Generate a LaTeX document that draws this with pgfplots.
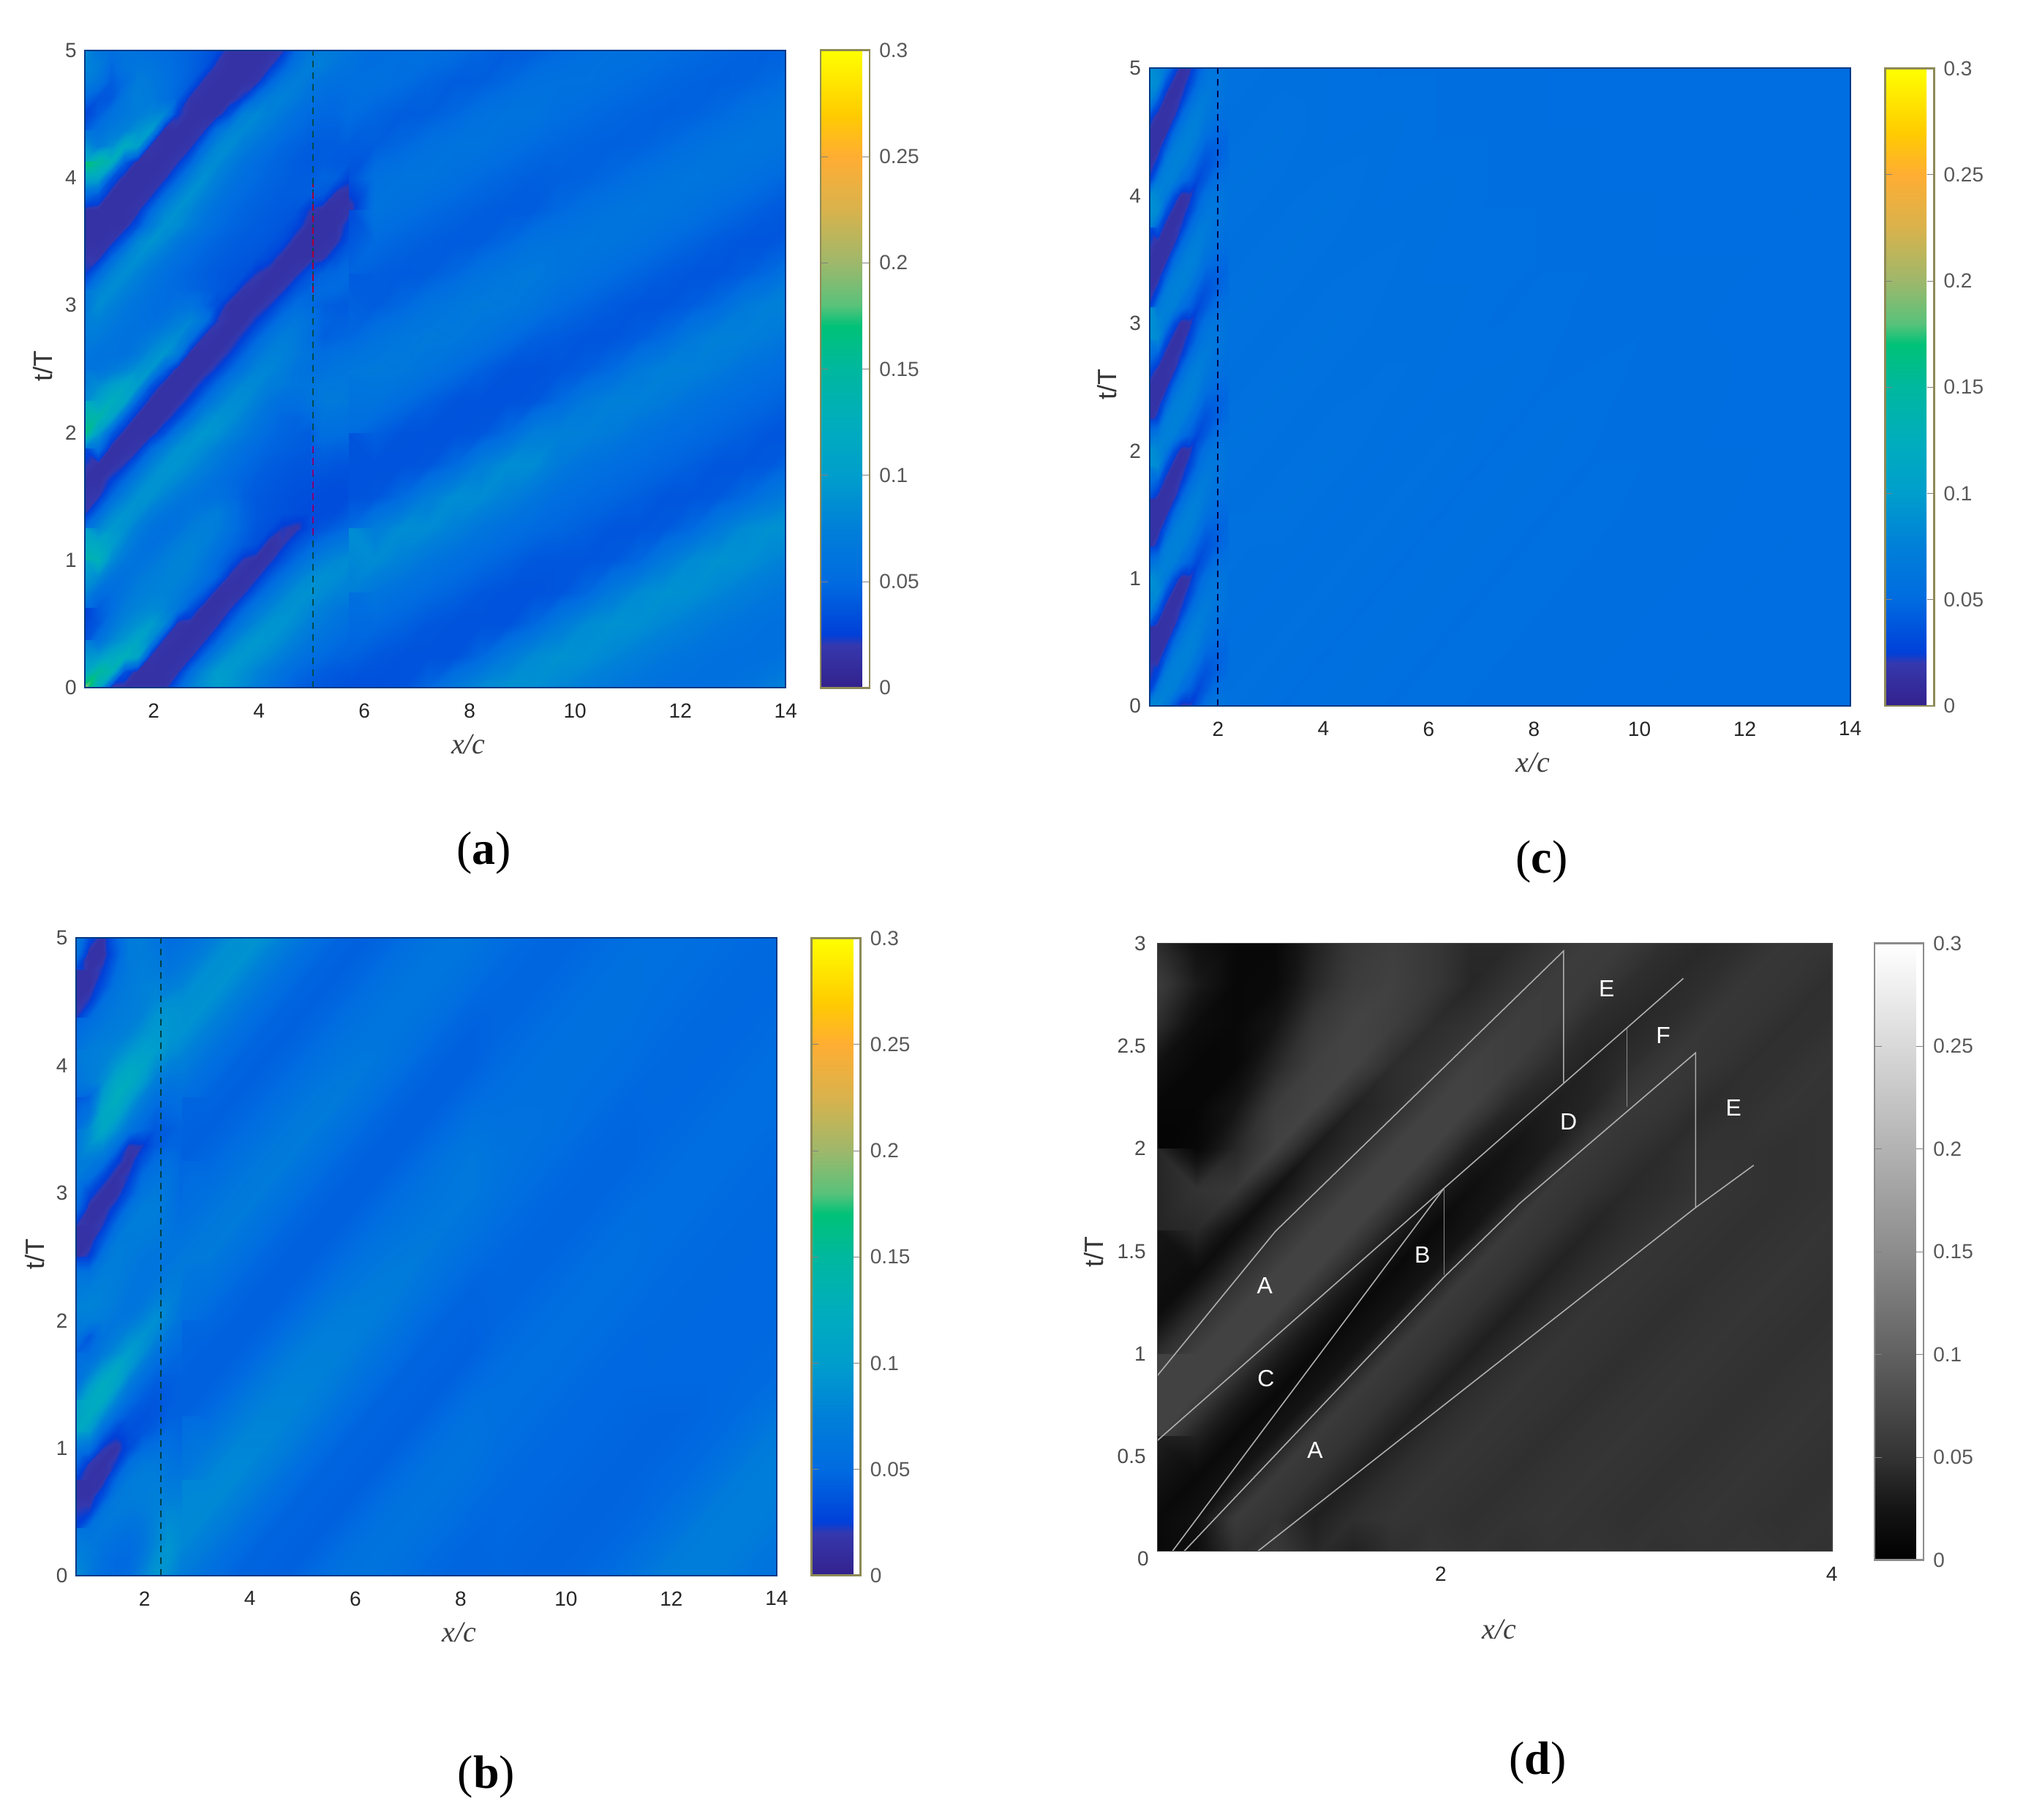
\documentclass[border=0pt]{standalone}
\usepackage{fontspec}
\usepackage{pgfplots}
\pgfplotsset{compat=1.18}
\setmainfont{Liberation Sans}
\newfontfamily\serifit{Liberation Serif}
\pgfplotsset{
 colormap={par}{rgb(0pt)=(.2,.13,.55); rgb(20pt)=(.21,.22,.68); rgb(25pt)=(0,.25,.85); rgb(50pt)=(0,.42,.88); rgb(75pt)=(0,.50,.85); rgb(100pt)=(0,.62,.80); rgb(125pt)=(0,.68,.74); rgb(150pt)=(0,.72,.62); rgb(170pt)=(0,.76,.47); rgb(180pt)=(.35,.76,.48); rgb(200pt)=(.62,.72,.42); rgb(225pt)=(.85,.70,.30); rgb(250pt)=(1,.68,.2); rgb(270pt)=(1,.8,0); rgb(300pt)=(1,1,0)},
 colormap={gry}{rgb(0pt)=(0,0,0); rgb(25pt)=(.08,.08,.08); rgb(50pt)=(.2,.2,.2); rgb(100pt)=(.38,.38,.38); rgb(150pt)=(.55,.55,.55); rgb(200pt)=(.7,.7,.7); rgb(250pt)=(.85,.85,.85); rgb(300pt)=(1,1,1)},
 heat/.style={scale only axis, axis on top, width=239.46pt, height=217.85pt,
  xmin=0.7, xmax=14, ymin=0, ymax=5, xtick={2,4,...,14}, ytick={0,...,5},
  major tick length=0pt, point meta min=0, point meta max=0.3,
  /pgf/number format/assume math mode=true,
  axis line style={draw=teal!60!blue!75!black, line width=.5pt},
  xticklabel style={font=\fontsize{7}{8}\selectfont, text=black!85, yshift=-1.9pt},
  yticklabel style={font=\fontsize{7}{8}\selectfont, text=black!70, xshift=.6pt},
  colorbar, colorbar style={scale only axis, width=16.76pt, height=217.85pt,
   at={(1.0497,1)}, anchor=north west, ymin=0, ymax=0.3,
   ytick={0,0.05,0.1,0.15,0.2,0.25,0.3}, yticklabels={0,0.05,0.1,0.15,0.2,0.25,0.3},
   major tick length=2.4pt, tick align=inside, yticklabel pos=right,
   axis line style={draw=black!45!olive!70, line width=.7pt},
   yticklabel style={font=\fontsize{7}{8}\selectfont, text=black!65, xshift=-.2pt}}},
 dash/.style={line width=.55pt, draw=#1, dash pattern=on 2.2pt off 1.8pt},
 mesh a/.style={surf, shader=interp, mesh/ordering=x varies, point meta=explicit},
}
\begin{document}
\begin{tikzpicture}[x=.441pt,y=.441pt]
\path[use as bounding box] (0,0) rectangle (1568,1410);
\coordinate (pa) at (66,877); \coordinate (pc) at (891,863);
\coordinate (pb) at (59,189); \coordinate (pd) at (897,208);
% ---------- (a)
\begin{axis}[at={(pa)},anchor=south west,heat,colormap name=par]
\addplot[mesh a, mesh/cols=18] table[row sep=\\, header=false,
 x expr={5.7+0.5*mod(\coordindex,18)}, y expr={5-0.25*floor(\coordindex/18)}, meta expr={\thisrowno{0}/1000}]{
62\\52\\55\\56\\52\\46\\42\\43\\49\\54\\57\\57\\53\\50\\47\\45\\44\\45\\
55\\56\\52\\46\\42\\43\\48\\56\\57\\57\\53\\50\\47\\45\\44\\45\\49\\55\\
52\\46\\42\\43\\48\\56\\60\\60\\53\\50\\47\\45\\44\\45\\49\\55\\60\\62\\
42\\43\\48\\56\\60\\60\\55\\50\\47\\45\\44\\45\\49\\55\\60\\62\\61\\57\\
35\\56\\60\\60\\55\\50\\46\\43\\44\\45\\49\\55\\60\\62\\61\\57\\51\\46\\
15\\60\\55\\50\\46\\43\\41\\42\\49\\55\\60\\62\\61\\57\\51\\46\\41\\38\\
30\\50\\46\\43\\41\\42\\48\\58\\60\\62\\61\\57\\51\\46\\41\\38\\38\\42\\
46\\43\\41\\42\\48\\58\\64\\67\\61\\57\\51\\46\\41\\38\\38\\42\\50\\66\\
41\\42\\48\\58\\64\\67\\66\\60\\51\\46\\41\\38\\38\\42\\50\\66\\75\\74\\
48\\58\\64\\67\\66\\60\\52\\44\\41\\38\\38\\42\\50\\66\\75\\74\\68\\59\\
64\\67\\66\\60\\52\\44\\37\\36\\38\\42\\50\\66\\75\\74\\68\\59\\53\\50\\
66\\60\\52\\44\\37\\36\\36\\38\\50\\66\\75\\74\\68\\59\\53\\50\\47\\43\\
52\\44\\37\\36\\36\\38\\50\\72\\75\\74\\68\\59\\53\\50\\47\\43\\38\\38\\
37\\36\\36\\38\\50\\72\\86\\85\\68\\59\\53\\50\\47\\43\\38\\38\\40\\49\\
36\\38\\50\\72\\86\\85\\75\\63\\53\\50\\47\\43\\38\\38\\40\\49\\63\\74\\
50\\72\\86\\85\\75\\63\\55\\50\\47\\43\\38\\38\\40\\49\\68\\84\\90\\88\\
86\\85\\75\\63\\55\\50\\45\\39\\38\\38\\40\\48\\68\\84\\90\\88\\80\\72\\
75\\63\\55\\50\\45\\39\\36\\36\\38\\48\\68\\84\\90\\88\\80\\72\\65\\60\\
55\\50\\45\\39\\36\\36\\36\\48\\68\\84\\90\\88\\80\\72\\65\\60\\56\\55\\
45\\39\\36\\36\\36\\48\\68\\84\\90\\88\\80\\72\\65\\60\\56\\55\\56\\60\\
34\\34\\36\\48\\68\\84\\90\\88\\80\\72\\65\\60\\56\\55\\56\\60\\70\\88\\
};
\addplot[mesh a, mesh/cols=21] table[row sep=\\, header=false,
 x expr={0.7+0.25*mod(\coordindex,21)}, y expr={5-0.125*floor(\coordindex/21)}, meta expr={\thisrowno{0}/1000}]{
85\\62\\55\\62\\58\\55\\52\\48\\45\\40\\32\\15\\15\\15\\15\\20\\48\\65\\70\\68\\62\\
80\\70\\48\\60\\65\\62\\56\\50\\45\\38\\18\\15\\15\\15\\20\\42\\62\\72\\70\\62\\58\\
72\\60\\42\\52\\70\\66\\58\\50\\42\\18\\15\\15\\15\\18\\45\\65\\72\\65\\58\\55\\55\\
50\\38\\40\\62\\72\\68\\58\\46\\18\\15\\15\\15\\25\\55\\72\\76\\68\\58\\52\\50\\52\\
28\\42\\58\\65\\72\\80\\82\\25\\15\\15\\15\\35\\75\\82\\75\\65\\55\\50\\48\\48\\52\\
42\\58\\68\\75\\90\\100\\15\\15\\15\\20\\55\\78\\82\\75\\65\\55\\50\\46\\44\\44\\48\\
62\\70\\85\\120\\105\\18\\15\\15\\18\\50\\80\\85\\72\\62\\54\\48\\45\\42\\42\\42\\42\\
120\\150\\130\\45\\15\\15\\15\\20\\45\\78\\85\\72\\60\\52\\48\\45\\42\\40\\42\\40\\40\\
175\\110\\38\\15\\15\\15\\18\\45\\75\\88\\75\\62\\54\\50\\46\\44\\42\\42\\46\\44\\28\\
55\\42\\15\\15\\15\\18\\48\\75\\90\\78\\65\\55\\50\\46\\44\\42\\42\\42\\40\\18\\15\\
18\\15\\15\\15\\18\\48\\78\\90\\80\\66\\56\\50\\46\\44\\42\\40\\38\\22\\15\\15\\18\\
15\\15\\15\\15\\36\\70\\90\\86\\72\\60\\52\\47\\44\\42\\40\\38\\30\\15\\15\\15\\28\\
15\\15\\18\\42\\80\\92\\82\\66\\56\\50\\46\\43\\41\\40\\38\\32\\15\\15\\15\\18\\36\\
15\\18\\48\\78\\88\\78\\66\\56\\50\\46\\43\\41\\39\\37\\30\\15\\15\\15\\18\\36\\46\\
24\\50\\78\\86\\76\\64\\56\\50\\46\\43\\40\\38\\36\\22\\15\\15\\18\\36\\46\\48\\50\\
50\\78\\85\\76\\66\\58\\52\\50\\47\\44\\40\\36\\18\\15\\15\\20\\38\\46\\50\\50\\46\\
62\\85\\76\\66\\60\\54\\52\\58\\60\\48\\34\\15\\15\\15\\22\\40\\52\\50\\44\\42\\41\\
72\\76\\68\\62\\58\\55\\60\\72\\80\\62\\22\\15\\15\\25\\42\\58\\65\\58\\46\\44\\44\\
75\\68\\62\\58\\60\\68\\80\\85\\60\\18\\15\\15\\25\\45\\62\\72\\68\\56\\44\\46\\48\\
64\\60\\60\\58\\68\\85\\95\\72\\15\\15\\15\\24\\45\\62\\75\\76\\68\\60\\52\\56\\58\\
60\\62\\68\\78\\90\\95\\48\\15\\15\\15\\25\\46\\62\\78\\80\\72\\62\\58\\58\\62\\64\\
68\\85\\100\\110\\100\\40\\15\\15\\15\\28\\50\\70\\82\\82\\72\\68\\62\\62\\66\\66\\65\\
85\\105\\125\\112\\45\\15\\15\\15\\28\\52\\72\\85\\85\\75\\62\\55\\55\\60\\67\\68\\66\\
120\\140\\110\\45\\15\\15\\15\\30\\55\\80\\90\\88\\78\\65\\55\\48\\46\\50\\62\\60\\58\\
165\\100\\42\\15\\15\\15\\35\\65\\85\\95\\90\\78\\68\\58\\50\\46\\44\\42\\55\\54\\52\\
70\\58\\15\\15\\18\\48\\72\\90\\92\\85\\75\\65\\56\\50\\46\\44\\42\\40\\46\\44\\44\\
30\\15\\15\\22\\48\\75\\90\\92\\85\\75\\65\\56\\50\\46\\42\\40\\38\\38\\40\\38\\37\\
15\\15\\26\\50\\75\\90\\90\\82\\72\\64\\56\\50\\46\\42\\40\\38\\36\\35\\35\\34\\34\\
15\\20\\50\\75\\90\\90\\78\\68\\62\\58\\58\\52\\44\\40\\38\\36\\34\\33\\32\\32\\33\\
20\\50\\80\\92\\88\\72\\62\\58\\62\\68\\72\\60\\46\\40\\37\\35\\33\\32\\32\\33\\40\\
55\\80\\95\\90\\72\\60\\56\\60\\70\\74\\72\\58\\46\\38\\34\\22\\18\\32\\38\\44\\50\\
100\\115\\100\\78\\62\\56\\62\\72\\78\\74\\62\\50\\42\\34\\15\\20\\36\\46\\55\\64\\70\\
140\\130\\85\\66\\60\\64\\72\\78\\78\\66\\52\\40\\20\\15\\18\\36\\50\\66\\76\\82\\86\\
110\\85\\62\\58\\66\\72\\76\\78\\72\\60\\46\\18\\15\\18\\40\\55\\72\\84\\88\\86\\80\\
80\\55\\52\\62\\72\\76\\78\\72\\60\\42\\15\\15\\18\\42\\60\\76\\88\\90\\84\\78\\75\\
55\\42\\52\\70\\78\\82\\80\\66\\38\\15\\15\\20\\45\\64\\78\\88\\90\\82\\74\\66\\62\\
25\\40\\62\\80\\90\\100\\82\\18\\15\\15\\18\\45\\66\\82\\92\\92\\84\\74\\66\\60\\55\\
35\\58\\80\\95\\112\\85\\18\\15\\15\\18\\45\\70\\88\\95\\92\\84\\74\\64\\58\\52\\48\\
70\\95\\115\\128\\110\\18\\15\\15\\18\\48\\75\\92\\95\\90\\82\\72\\62\\54\\50\\46\\45\\
115\\150\\135\\36\\15\\15\\15\\18\\52\\82\\98\\96\\88\\78\\68\\58\\50\\46\\42\\40\\38\\
190\\120\\18\\15\\15\\15\\15\\45\\75\\90\\100\\94\\84\\72\\60\\50\\44\\40\\38\\36\\34\\
};
\addplot[dash=black!40!teal] coordinates {(5.03,0) (5.03,5)};
\addplot[dash=purple!85!black] coordinates {(5.03,3.1) (5.03,3.95)};
\addplot[dash=purple!70!blue] coordinates {(5.03,1.2) (5.03,1.9)};
\end{axis}
% ---------- (c)
\begin{axis}[at={(pc)},anchor=south west,heat,colormap name=par]
\addplot[mesh a, mesh/cols=13] table[row sep=\\, header=false,
 x expr={2.2+mod(\coordindex,13)}, y expr={5-0.5*floor(\coordindex/13)}, meta expr={\thisrowno{0}/1000}]{
58\\56\\55\\54\\54\\53\\53\\52\\52\\52\\52\\52\\52\\
56\\58\\55\\56\\54\\54\\53\\53\\52\\52\\52\\52\\52\\
58\\56\\58\\55\\56\\54\\54\\53\\53\\52\\52\\53\\52\\
56\\58\\56\\57\\55\\55\\54\\54\\53\\53\\53\\52\\52\\
58\\56\\58\\56\\56\\54\\55\\53\\54\\53\\52\\53\\52\\
56\\58\\56\\57\\55\\56\\54\\55\\53\\54\\52\\52\\52\\
58\\56\\58\\55\\57\\54\\56\\54\\54\\53\\53\\52\\52\\
56\\58\\55\\57\\54\\56\\54\\55\\53\\54\\52\\53\\52\\
58\\55\\57\\54\\56\\54\\55\\53\\54\\52\\53\\52\\52\\
55\\57\\54\\56\\54\\55\\53\\54\\52\\53\\52\\52\\52\\
57\\54\\56\\54\\55\\53\\54\\52\\53\\52\\52\\52\\52\\
};
\addplot[mesh a, mesh/cols=11] table[row sep=\\, header=false,
 x expr={0.7+0.15*mod(\coordindex,11)}, y expr={5-0.125*floor(\coordindex/11)}, meta expr={\thisrowno{0}/1000}]{
88\\80\\68\\36\\15\\18\\40\\56\\64\\62\\58\\
90\\82\\36\\15\\15\\30\\52\\64\\66\\62\\58\\
78\\40\\15\\15\\24\\50\\66\\70\\64\\60\\56\\
30\\15\\15\\18\\50\\68\\74\\66\\60\\56\\54\\
15\\15\\15\\48\\68\\76\\72\\58\\52\\50\\50\\
15\\15\\40\\70\\76\\74\\60\\45\\44\\46\\50\\
15\\30\\70\\76\\74\\60\\44\\36\\42\\48\\52\\
26\\66\\76\\74\\54\\44\\30\\40\\52\\56\\56\\
88\\80\\68\\36\\15\\18\\40\\56\\64\\62\\58\\
90\\82\\36\\15\\15\\30\\52\\64\\66\\62\\58\\
78\\40\\15\\15\\24\\50\\66\\70\\64\\60\\56\\
30\\15\\15\\18\\50\\68\\74\\66\\60\\56\\54\\
15\\15\\15\\48\\68\\76\\72\\58\\52\\50\\50\\
15\\15\\40\\70\\76\\74\\60\\45\\44\\46\\50\\
15\\30\\70\\76\\74\\60\\44\\36\\42\\48\\52\\
26\\66\\76\\74\\54\\44\\30\\40\\52\\56\\56\\
88\\80\\68\\36\\15\\18\\40\\56\\64\\62\\58\\
90\\82\\36\\15\\15\\30\\52\\64\\66\\62\\58\\
78\\40\\15\\15\\24\\50\\66\\70\\64\\60\\56\\
30\\15\\15\\18\\50\\68\\74\\66\\60\\56\\54\\
15\\15\\15\\48\\68\\76\\72\\58\\52\\50\\50\\
15\\15\\40\\70\\76\\74\\60\\45\\44\\46\\50\\
15\\30\\70\\76\\74\\60\\44\\36\\42\\48\\52\\
26\\66\\76\\74\\54\\44\\30\\40\\52\\56\\56\\
88\\80\\68\\36\\15\\18\\40\\56\\64\\62\\58\\
90\\82\\36\\15\\15\\30\\52\\64\\66\\62\\58\\
78\\40\\15\\15\\24\\50\\66\\70\\64\\60\\56\\
30\\15\\15\\18\\50\\68\\74\\66\\60\\56\\54\\
15\\15\\15\\48\\68\\76\\72\\58\\52\\50\\50\\
15\\15\\40\\70\\76\\74\\60\\45\\44\\46\\50\\
15\\30\\70\\76\\74\\60\\44\\36\\42\\48\\52\\
26\\66\\76\\74\\54\\44\\30\\40\\52\\56\\56\\
88\\80\\68\\36\\15\\18\\40\\56\\64\\62\\58\\
90\\82\\36\\15\\15\\30\\52\\64\\66\\62\\58\\
78\\40\\15\\15\\24\\50\\66\\70\\64\\60\\56\\
30\\15\\15\\18\\50\\68\\74\\66\\60\\56\\54\\
15\\15\\15\\48\\68\\76\\72\\58\\52\\50\\50\\
15\\15\\40\\70\\76\\74\\60\\45\\44\\46\\50\\
15\\30\\70\\76\\74\\60\\44\\36\\42\\48\\52\\
26\\66\\76\\74\\54\\44\\30\\40\\52\\56\\56\\
85\\80\\68\\40\\18\\20\\40\\56\\64\\62\\57\\
};
\addplot[dash=black!70!blue] coordinates {(2,0) (2,5)};
\end{axis}
% ---------- (b)
\begin{axis}[at={(pb)},anchor=south west,heat,colormap name=par]
\addplot[mesh a, mesh/cols=24] table[row sep=\\, header=false,
 x expr={2.7+0.5*mod(\coordindex,24)}, y expr={5-0.25*floor(\coordindex/24)}, meta expr={\thisrowno{0}/1000}]{
55\\68\\88\\90\\72\\55\\46\\44\\48\\56\\62\\62\\54\\49\\47\\47\\50\\54\\55\\55\\53\\51\\49\\49\\
68\\88\\90\\72\\55\\46\\44\\48\\56\\62\\62\\56\\49\\47\\47\\50\\54\\56\\55\\53\\51\\49\\49\\48\\
88\\90\\72\\55\\46\\44\\48\\56\\62\\62\\56\\48\\47\\47\\50\\54\\56\\56\\53\\51\\49\\49\\48\\50\\
90\\72\\55\\46\\44\\48\\56\\62\\62\\56\\48\\44\\47\\50\\54\\56\\56\\54\\51\\49\\49\\48\\50\\52\\
72\\55\\46\\44\\48\\56\\64\\66\\58\\48\\44\\44\\50\\54\\56\\56\\54\\52\\49\\49\\48\\50\\52\\53\\
55\\46\\44\\48\\56\\66\\68\\58\\48\\44\\44\\50\\54\\56\\56\\54\\52\\48\\49\\48\\50\\52\\53\\52\\
46\\44\\48\\56\\66\\68\\58\\48\\44\\44\\50\\60\\58\\58\\56\\52\\48\\47\\48\\50\\52\\53\\52\\50\\
44\\48\\56\\66\\68\\58\\48\\44\\44\\50\\60\\66\\60\\56\\52\\48\\47\\47\\50\\52\\53\\52\\50\\49\\
48\\56\\66\\68\\58\\48\\44\\44\\50\\58\\64\\66\\58\\52\\48\\47\\47\\50\\52\\53\\52\\50\\49\\49\\
56\\66\\68\\58\\48\\44\\44\\50\\58\\64\\66\\60\\52\\48\\47\\47\\50\\54\\53\\52\\50\\49\\49\\48\\
66\\68\\58\\48\\44\\44\\50\\60\\66\\68\\60\\52\\48\\47\\47\\50\\54\\55\\52\\50\\49\\49\\48\\48\\
68\\58\\48\\44\\44\\50\\62\\68\\70\\62\\52\\46\\47\\47\\50\\54\\55\\53\\50\\49\\49\\48\\48\\48\\
58\\48\\44\\44\\50\\64\\72\\72\\64\\52\\46\\45\\47\\50\\54\\55\\53\\50\\49\\49\\48\\48\\48\\49\\
48\\44\\44\\50\\66\\74\\74\\64\\54\\46\\45\\44\\50\\54\\55\\53\\50\\48\\49\\48\\48\\48\\49\\50\\
44\\44\\50\\66\\76\\76\\66\\54\\46\\45\\44\\50\\54\\55\\53\\50\\48\\48\\48\\48\\48\\49\\50\\55\\
44\\50\\66\\78\\78\\68\\54\\46\\45\\44\\50\\58\\55\\53\\50\\48\\48\\47\\46\\46\\48\\50\\58\\68\\
50\\66\\80\\80\\70\\54\\46\\45\\44\\50\\58\\60\\53\\50\\48\\48\\47\\46\\46\\48\\50\\58\\68\\72\\
66\\80\\82\\70\\54\\46\\45\\44\\50\\58\\60\\56\\50\\48\\48\\47\\46\\46\\48\\50\\58\\68\\72\\72\\
80\\82\\70\\54\\46\\45\\44\\50\\58\\60\\56\\50\\48\\48\\47\\46\\46\\47\\50\\58\\68\\72\\72\\66\\
82\\70\\54\\46\\45\\44\\50\\58\\60\\56\\50\\47\\48\\47\\46\\46\\47\\50\\58\\68\\72\\72\\66\\60\\
70\\54\\46\\45\\44\\50\\58\\60\\56\\50\\47\\46\\47\\46\\46\\47\\50\\58\\68\\72\\72\\66\\60\\56\\
};
\addplot[mesh a, mesh/cols=9] table[row sep=\\, header=false,
 x expr={0.7+0.25*mod(\coordindex,9)}, y expr={5-0.125*floor(\coordindex/9)}, meta expr={\thisrowno{0}/1000}]{
72\\32\\15\\45\\68\\72\\62\\52\\55\\
60\\15\\15\\40\\68\\70\\66\\56\\62\\
32\\15\\24\\50\\66\\72\\70\\62\\68\\
15\\15\\34\\60\\68\\75\\78\\72\\78\\
15\\24\\55\\65\\70\\75\\82\\88\\88\\
22\\50\\62\\68\\72\\78\\92\\92\\90\\
45\\62\\68\\72\\78\\90\\96\\92\\90\\
60\\70\\75\\80\\92\\102\\100\\88\\82\\
68\\72\\78\\95\\112\\110\\88\\75\\72\\
62\\70\\85\\115\\122\\100\\72\\62\\62\\
48\\45\\100\\125\\105\\76\\58\\52\\55\\
38\\60\\115\\115\\82\\60\\46\\48\\50\\
55\\85\\115\\90\\62\\48\\40\\42\\46\\
66\\88\\85\\60\\20\\22\\40\\46\\45\\
70\\70\\60\\28\\15\\36\\52\\54\\47\\
70\\56\\30\\15\\24\\52\\60\\60\\48\\
70\\30\\15\\15\\36\\62\\68\\62\\48\\
50\\15\\15\\30\\60\\72\\72\\62\\52\\
22\\15\\22\\52\\70\\72\\70\\62\\56\\
15\\15\\40\\68\\70\\68\\66\\62\\62\\
15\\26\\60\\72\\68\\64\\62\\62\\66\\
24\\58\\72\\72\\66\\62\\62\\66\\68\\
60\\72\\75\\70\\64\\62\\66\\72\\68\\
75\\78\\75\\68\\62\\65\\78\\78\\62\\
78\\72\\68\\64\\66\\78\\88\\74\\58\\
60\\40\\60\\70\\85\\92\\80\\62\\53\\
44\\52\\68\\85\\100\\88\\62\\52\\48\\
50\\68\\95\\115\\95\\66\\50\\46\\46\\
60\\95\\122\\110\\70\\50\\42\\42\\44\\
85\\118\\120\\80\\52\\42\\38\\42\\44\\
105\\120\\85\\52\\40\\36\\38\\44\\44\\
115\\95\\50\\28\\34\\38\\44\\50\\47\\
100\\56\\22\\16\\32\\50\\56\\56\\50\\
66\\20\\15\\24\\55\\66\\68\\62\\58\\
26\\15\\16\\48\\68\\72\\72\\66\\66\\
15\\15\\34\\65\\70\\72\\76\\74\\73\\
15\\24\\62\\68\\66\\68\\76\\82\\80\\
28\\58\\66\\62\\58\\62\\78\\88\\82\\
62\\66\\60\\55\\52\\60\\80\\92\\82\\
78\\68\\56\\50\\50\\66\\88\\92\\76\\
85\\66\\54\\50\\52\\76\\92\\86\\70\\
};
\addplot[dash=black!50!teal] coordinates {(2.31,0) (2.31,5)};
\end{axis}
% ---------- (d)
\begin{axis}[at={(pd)},anchor=south west,heat,colormap name=gry,
 width=230.6pt,height=207.7pt,xmin=.55,xmax=4,ymin=.04,ymax=3,xtick={2,4},ytick={.5,1,...,3},
 yticklabels={0.5,1,1.5,2,2.5,3},
 axis line style={draw=black!75,line width=.4pt},
 yticklabel style={font=\fontsize{7}{8}\selectfont, text=black!70, xshift=-1pt},
 colorbar style={height=210.8pt,width=16.76pt,at={(1.0631,1)},
 axis line style={draw=black!45,line width=.7pt}}]
\addplot[mesh a, mesh/cols=19] table[row sep=\\, header=false,
 x expr={0.55+0.2*mod(\coordindex,19)}, y expr={3-0.2*floor(\coordindex/19)}, meta expr={\thisrowno{0}/1000}]{
45\\20\\10\\10\\35\\55\\62\\55\\42\\42\\52\\60\\58\\46\\42\\46\\54\\52\\47\\
60\\30\\10\\12\\40\\60\\65\\55\\40\\50\\60\\58\\46\\42\\46\\54\\52\\47\\48\\
45\\15\\10\\25\\55\\68\\62\\45\\50\\62\\60\\44\\40\\45\\54\\52\\47\\48\\52\\
20\\8\\10\\40\\65\\68\\45\\50\\66\\62\\45\\36\\45\\56\\52\\47\\48\\52\\50\\
8\\8\\25\\60\\68\\36\\45\\66\\66\\40\\32\\38\\56\\52\\44\\48\\52\\50\\48\\
5\\10\\40\\66\\30\\45\\66\\66\\35\\24\\32\\56\\50\\44\\50\\50\\48\\50\\52\\
40\\50\\55\\22\\45\\66\\66\\35\\18\\28\\56\\50\\42\\46\\52\\50\\48\\50\\52\\
38\\42\\18\\45\\66\\66\\35\\12\\25\\58\\50\\38\\46\\52\\50\\48\\50\\52\\50\\
25\\15\\45\\66\\66\\35\\12\\25\\58\\50\\36\\46\\52\\50\\48\\50\\52\\50\\48\\
15\\45\\66\\66\\35\\12\\25\\58\\50\\34\\46\\52\\50\\47\\50\\52\\50\\48\\50\\
45\\66\\66\\35\\12\\25\\58\\50\\34\\46\\52\\50\\47\\50\\52\\50\\48\\50\\52\\
66\\66\\35\\12\\25\\58\\50\\34\\46\\52\\50\\47\\50\\52\\50\\48\\50\\52\\50\\
66\\35\\12\\25\\58\\50\\34\\46\\52\\50\\47\\50\\52\\50\\48\\50\\52\\50\\48\\
35\\12\\25\\58\\50\\34\\46\\52\\50\\47\\50\\52\\50\\48\\50\\52\\50\\48\\50\\
12\\20\\58\\50\\34\\46\\52\\50\\47\\50\\52\\50\\48\\50\\52\\50\\48\\50\\52\\
10\\15\\45\\58\\42\\34\\46\\52\\50\\47\\50\\52\\50\\48\\50\\52\\50\\48\\50\\
};
\addplot[draw=black!32,line width=.4pt] coordinates {(.55,.894) (1.153,1.596) (2.628,2.963) (2.628,2.322)};
\addplot[draw=black!32,line width=.4pt] coordinates {(.55,.578) (2.016,1.807) (3.24,2.829)};
\addplot[draw=black!45,line width=.4pt] coordinates {(2.016,1.807) (2.016,1.386)};
\addplot[draw=black!45,line width=.4pt] coordinates {(2.951,2.584) (2.951,2.205)};
\addplot[draw=black!32,line width=.4pt] coordinates {(.628,.04) (2.016,1.807)};
\addplot[draw=black!32,line width=.4pt] coordinates {(.688,.04) (2.016,1.374) (2.408,1.737) (3.303,2.467) (3.303,1.713)};
\addplot[draw=black!32,line width=.4pt] coordinates {(1.065,.04) (3.303,1.713) (3.6,1.919)};
\tikzset{lab/.style={text=white,font=\fontsize{8}{9}\selectfont}}
\node[lab] at (axis cs:1.10,1.334) {A};
\node[lab] at (axis cs:1.106,.882) {C};
\node[lab] at (axis cs:1.357,.531) {A};
\node[lab] at (axis cs:1.906,1.484) {B};
\node[lab] at (axis cs:2.653,2.13) {D};
\node[lab] at (axis cs:2.848,2.778) {E};
\node[lab] at (axis cs:3.137,2.551) {F};
\node[lab] at (axis cs:3.497,2.198) {E};
\end{axis}
% ---------- texts
\node[font=\fontsize{7}{8}\selectfont,text=black!70] at (886,202) {0};
\foreach \px/\py in {363/833,1188/819,356/145,1162/147}
 \node[font=\serifit\itshape\fontsize{10}{12}\selectfont,text=black!75] at (\px,\py) {x/c};
\foreach \px/\py in {33/1126,858/1112,27/438,848/440}
 \node[rotate=90,font=\fontsize{9}{10}\selectfont,text=black!80] at (\px,\py) {t/T};
\node[font=\serifit\fontsize{16}{18}\selectfont] at (375,749) {(\textbf{a})};
\node[font=\serifit\fontsize{16}{18}\selectfont] at (1195,742) {(\textbf{c})};
\node[font=\serifit\fontsize{16}{18}\selectfont] at (377,33) {(\textbf{b})};
\node[font=\serifit\fontsize{16}{18}\selectfont] at (1192,44) {(\textbf{d})};
\end{tikzpicture}
\end{document}
